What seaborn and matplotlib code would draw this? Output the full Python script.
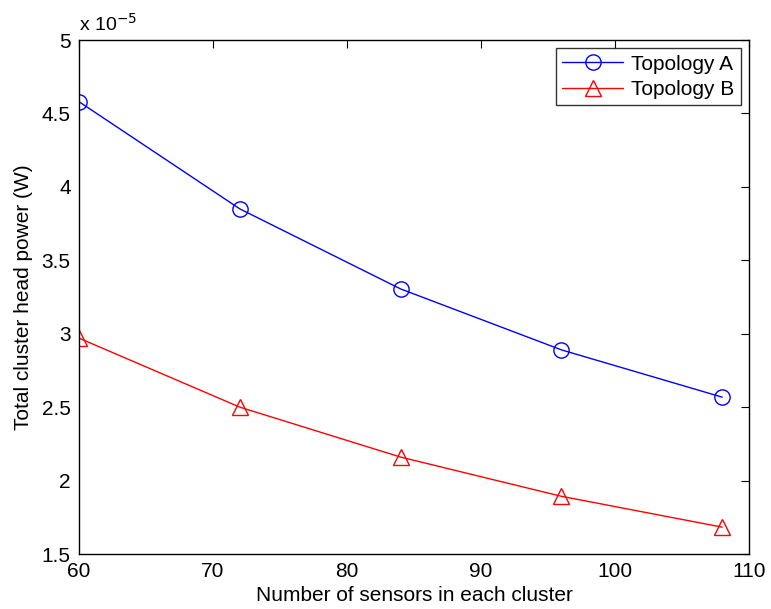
import matplotlib
matplotlib.use("Agg")
import matplotlib.pyplot as plt
from matplotlib.ticker import FuncFormatter
import seaborn as sns
import pandas as pd

# data (W)
sensors = [60, 72, 84, 96, 108]
topology_a = [4.58e-5, 3.85e-5, 3.305e-5, 2.89e-5, 2.568e-5]
topology_b = [2.97e-5, 2.50e-5, 2.16e-5, 1.893e-5, 1.683e-5]
series_names = ["Topology A", "Topology B"]

df = pd.DataFrame({
    "sensors": sensors * 2,
    "power": topology_a + topology_b,
    "series": [series_names[0]] * len(sensors) + [series_names[1]] * len(sensors),
})

sns.set_style("white")
plt.rcParams["font.family"] = ["Liberation Sans", "DejaVu Sans"]
plt.rcParams["font.size"] = 15
plt.rcParams["text.color"] = "black"
plt.rcParams["axes.labelcolor"] = "black"

fig = plt.figure(figsize=(7.71, 6.09), dpi=100)
ax = fig.add_axes([0.1025, 0.0903, 0.869, 0.844])

sns.lineplot(data=df, x="sensors", y="power", hue="series", style="series",
             markers={"Topology A": "o", "Topology B": "^"}, dashes=False,
             palette={"Topology A": "blue", "Topology B": "red"},
             markersize=11, markeredgewidth=1.0,
             linewidth=1.0, ax=ax)
# open markers as in the original
for line in ax.lines:
    line.set_markerfacecolor("none")
    line.set_markeredgecolor(line.get_color())

ax.set_xlim(60, 110)
ax.set_ylim(1.5e-5, 5e-5)
ax.set_xticks([60, 70, 80, 90, 100, 110])
ax.set_yticks([1.5e-5, 2e-5, 2.5e-5, 3e-5, 3.5e-5, 4e-5, 4.5e-5, 5e-5])
ax.yaxis.set_major_formatter(FuncFormatter(lambda v, p: f"{v / 1e-5:g}"))
ax.tick_params(direction="in", length=6, width=0.8, top=True, right=True,
               labelsize=15, colors="black", pad=6)
for s in ax.spines.values():
    s.set_color("black")
    s.set_linewidth(1.0)

ax.set_xlabel("Number of sensors in each cluster", fontsize=15, labelpad=3)
ax.set_ylabel("Total cluster head power (W)", fontsize=15, labelpad=6)
ax.text(0.0, 1.01, r"x 10$^{-5}$", transform=ax.transAxes, fontsize=14,
        ha="left", va="bottom")

leg = ax.legend(loc="upper right", fontsize=15, frameon=True, fancybox=False,
                edgecolor="black", handlelength=2.9, borderpad=0.3,
                labelspacing=0.3, handletextpad=0.4, borderaxespad=0.4)
leg.get_frame().set_linewidth(1.0)
for h in leg.legend_handles:
    h.set_markerfacecolor("none")

fig.savefig("out.png", dpi=100)
